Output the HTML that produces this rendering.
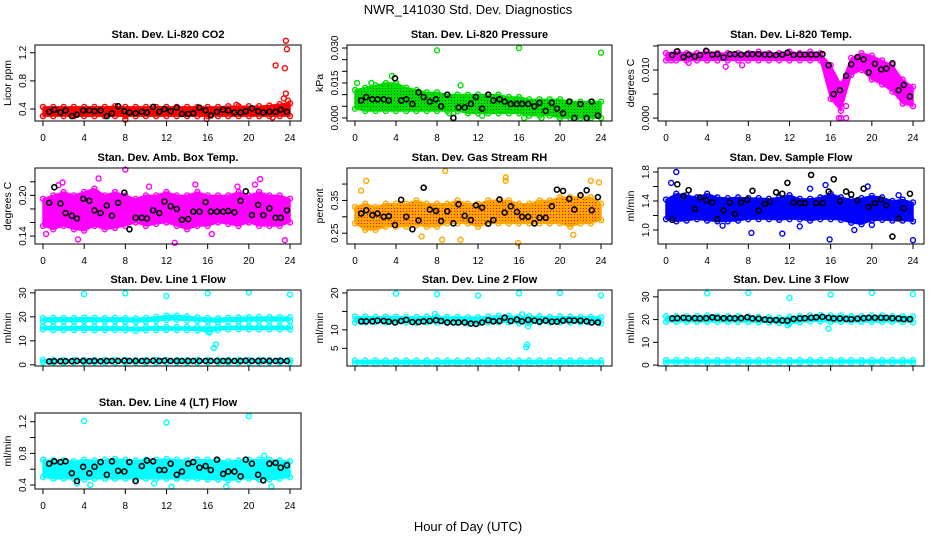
<!DOCTYPE html>
<html><head><meta charset="utf-8"><title>NWR_141030 Std. Dev. Diagnostics</title>
<style>
html,body{margin:0;padding:0;background:#fff;}
svg{display:block;font-family:"Liberation Sans","DejaVu Sans",sans-serif;}
</style></head>
<body>
<svg id="chart" width="936" height="540" viewBox="0 0 936 540" xmlns="http://www.w3.org/2000/svg">
<defs>
<pattern id="pGreen" width="3" height="3" patternUnits="userSpaceOnUse"><rect width="3" height="3" fill="#00dd00"/><rect x="1" y="1" width="1" height="1" fill="#006600"/></pattern>
<pattern id="pOrange" width="3" height="3" patternUnits="userSpaceOnUse"><rect width="3" height="3" fill="#ffa500"/><rect x="1" y="1" width="1" height="1" fill="#ff0000"/></pattern>
</defs>
<text x="468" y="14" text-anchor="middle" font-size="13">NWR_141030  Std. Dev. Diagnostics</text>
<text x="468" y="531" text-anchor="middle" font-size="13">Hour of Day (UTC)</text>
<g id="panels"></g>
</svg>
<script>
// ---- shared data ----
const blackHours = [0.6,1.1,1.7,2.2,2.8,3.3,3.9,4.5,5.0,5.6,6.2,6.7,7.3,7.9,8.4,9.0,9.6,10.1,10.7,11.3,11.8,12.4,13.0,13.5,14.1,14.6,15.2,15.8,16.3,16.9,17.5,18.0,18.6,19.2,19.7,20.3,20.9,21.4,22.0,22.6,23.1,23.7];
const xTicks = [0,4,8,12,16,20,24];

// CO2
const co2Lo = [0.30,0.30,0.30,0.30,0.30,0.30,0.30,0.30,0.30,0.30,0.30,0.30,0.30,0.30,0.30,0.30,0.30,0.30,0.30,0.30,0.30,0.30,0.30,0.30,0.30];
const co2Hi = [0.43,0.43,0.43,0.43,0.43,0.43,0.43,0.44,0.43,0.43,0.43,0.43,0.43,0.43,0.43,0.43,0.43,0.43,0.44,0.44,0.44,0.44,0.45,0.47,0.48];
const co2Out = [[22.6,1.02],[23.5,0.98],[23.6,1.37],[23.7,1.25],[23.4,0.55],[23.6,0.62],[23.8,0.52],[8.0,0.25],[15.9,0.26],[22.3,0.28],[18.8,0.46]];
const co2Black = [0.36,0.39,0.35,0.38,0.30,0.32,0.38,0.38,0.37,0.38,0.30,0.34,0.44,0.37,0.35,0.34,0.36,0.35,0.43,0.36,0.40,0.37,0.42,0.33,0.33,0.34,0.42,0.38,0.31,0.36,0.39,0.38,0.35,0.35,0.37,0.41,0.37,0.35,0.36,0.36,0.39,0.36];
const co2Ticks = [0.4,0.8,1.2];

// Pressure
const prLo = [0.004,0.003,0.003,0.003,0.003,0.003,0.003,0.003,0.003,0.003,0.003,0.002,0.002,0.002,0.002,0.002,0.002,0.001,0.001,0.001,0.000,0.000,0.000,0.000,0.000];
const prHi = [0.012,0.013,0.014,0.015,0.015,0.013,0.012,0.011,0.011,0.010,0.010,0.010,0.010,0.010,0.010,0.009,0.009,0.008,0.008,0.008,0.008,0.007,0.007,0.007,0.007];
const prOut = [[8.0,0.029],[16.0,0.030],[24,0.028],[3.6,0.018],[9.6,0.002],[12.4,0.001],[16.5,0.000],[18.2,0.000],[20,0.000],[0.2,0.015],[1.6,0.015],[10.3,0.014],[9.2,0.002]];
const prBlack = [0.0075,0.009,0.008,0.008,0.008,0.0075,0.017,0.0075,0.008,0.006,0.011,0.009,0.007,0.008,0.005,0.010,0.000,0.0045,0.0045,0.006,0.009,0.004,0.010,0.0075,0.008,0.007,0.006,0.006,0.006,0.006,0.005,0.0065,0.003,0.0065,0.004,0.002,0.007,0.000,0.006,0.000,0.007,0.001];
const prTicks = [0,0.005,0.010,0.015,0.020,0.025,0.030];
const prLabels = ["0.000","","","0.015","","","0.030"];

// Li-820 temp
const tLo = [0.012,0.012,0.012,0.012,0.012,0.012,0.012,0.012,0.012,0.012,0.012,0.012,0.012,0.012,0.012,0.012,0.004,0.0015,0.009,0.010,0.008,0.007,0.0055,0.003,0.0025];
const tHi = [0.0135,0.0138,0.0135,0.0135,0.0138,0.0135,0.0135,0.0135,0.0135,0.0138,0.0135,0.0135,0.0138,0.0135,0.0138,0.0135,0.011,0.007,0.0125,0.0135,0.013,0.012,0.011,0.008,0.0065];
const tOut = [[17,0],[16.8,0],[17.5,0],[17.5,0.0025],[5.8,0.0107],[7.4,0.011],[2.2,0.0115],[0.5,0.012]];
const tBlack = [0.0131,0.0139,0.0127,0.0132,0.0128,0.0131,0.0140,0.0132,0.0133,0.0126,0.0133,0.0133,0.0132,0.0133,0.0133,0.0133,0.0132,0.0132,0.0131,0.0132,0.0136,0.0131,0.0132,0.0132,0.0132,0.0132,0.0133,0.0110,0.0050,0.0058,0.0088,0.0112,0.0127,0.0122,0.0095,0.0113,0.0101,0.0103,0.0114,0.0058,0.0069,0.0045];
const tTicks = [0,0.005,0.010,0.015];
const tLabels = ["0.000","","0.010",""];

// Ambient box temp
const aLo = [0.155,0.15,0.155,0.15,0.148,0.155,0.15,0.152,0.155,0.16,0.155,0.158,0.16,0.155,0.15,0.155,0.155,0.16,0.158,0.155,0.16,0.155,0.155,0.155,0.16];
const aHi = [0.195,0.2,0.205,0.2,0.205,0.21,0.2,0.205,0.2,0.195,0.2,0.2,0.205,0.2,0.2,0.205,0.2,0.2,0.2,0.205,0.2,0.205,0.2,0.2,0.195];
const aOut = [[8.0,0.238],[5.4,0.225],[1.9,0.219],[1.5,0.215],[12.8,0.130],[3.4,0.135],[23.5,0.134],[21.1,0.224],[20.6,0.216],[14.8,0.216],[18.9,0.213],[10.3,0.213],[0.3,0.143],[16.4,0.143]];
const aBlack = [0.189,0.212,0.188,0.174,0.170,0.166,0.195,0.192,0.178,0.174,0.185,0.170,0.189,0.204,0.150,0.167,0.167,0.166,0.178,0.174,0.191,0.184,0.180,0.164,0.165,0.176,0.176,0.190,0.176,0.176,0.176,0.177,0.175,0.192,0.206,0.171,0.186,0.171,0.181,0.167,0.167,0.178];
const aTicks = [0.14,0.16,0.18,0.20,0.22];
const aLabels = ["0.14","","","0.20",""];

// Gas stream RH
const rhLo = [0.28,0.26,0.26,0.27,0.27,0.27,0.275,0.27,0.27,0.28,0.28,0.28,0.27,0.28,0.28,0.28,0.28,0.28,0.28,0.28,0.28,0.27,0.28,0.28,0.29];
const rhHi = [0.33,0.34,0.33,0.34,0.34,0.34,0.35,0.34,0.34,0.34,0.35,0.34,0.34,0.35,0.35,0.35,0.34,0.34,0.35,0.35,0.36,0.36,0.36,0.36,0.34];
const rhOut = [[8.8,0.44],[14.7,0.42],[14.7,0.41],[1.1,0.41],[23,0.41],[23.8,0.405],[15.9,0.22],[8.5,0.23],[10.3,0.23],[21.3,0.245],[6.5,0.24],[0.6,0.38]];
const rhBlack = [0.31,0.32,0.305,0.31,0.30,0.302,0.275,0.352,0.30,0.262,0.289,0.389,0.322,0.318,0.287,0.317,0.28,0.338,0.303,0.29,0.335,0.328,0.279,0.29,0.353,0.313,0.332,0.315,0.30,0.30,0.28,0.297,0.297,0.332,0.383,0.379,0.355,0.322,0.366,0.381,0.32,0.36];
const rhTicks = [0.25,0.30,0.35,0.40];
const rhLabels = ["0.25","","0.35",""];

// Sample flow
const sfLo = [1.15,1.12,1.13,1.15,1.13,1.12,1.12,1.13,1.15,1.15,1.15,1.14,1.15,1.15,1.13,1.15,1.15,1.14,1.10,1.08,1.13,1.14,1.13,1.13,1.12];
const sfHi = [1.42,1.5,1.48,1.45,1.5,1.45,1.44,1.45,1.44,1.44,1.43,1.45,1.48,1.43,1.43,1.45,1.5,1.45,1.42,1.44,1.47,1.45,1.4,1.42,1.38];
const sfOut = [[1.0,1.8],[0.5,1.65],[11.3,0.95],[8.3,0.96],[15.9,0.87],[24,0.86],[19.6,1.6],[14,1.57],[15.5,1.62],[18.3,1.0],[20,1.07],[5.5,1.06],[13,1.05],[22.6,1.48]];
const sfBlack = [1.14,1.63,1.47,1.55,1.29,1.45,1.41,1.38,1.15,1.27,1.38,1.22,1.38,1.42,1.54,1.27,1.36,1.39,1.52,1.50,1.65,1.38,1.37,1.37,1.76,1.37,1.37,1.53,1.70,1.40,1.53,1.49,1.41,1.57,1.32,1.37,1.42,1.34,0.91,1.16,1.30,1.50];
const sfTicks = [1.0,1.2,1.4,1.6,1.8];
const sfLabels = ["1.0","","1.4","","1.8"];

// Line 1 flow
const l1UpLo = [18.0,18.0,18.1,18.0,18.1,18.0,18.0,18.1,18.0,17.9,18.0,18.3,18.7,18.8,18.5,18.3,18.0,17.8,18.1,18.1,18.3,18.3,18.3,18.3,18.3];
const l1UpHi = [19.5,19.6,19.5,19.5,19.7,19.6,19.5,19.6,19.5,19.4,19.6,20.0,20.5,20.5,20.2,19.8,19.5,19.4,19.6,19.8,19.9,19.9,19.9,19.9,19.9];
const l1MidLo = [14.8,14.5,14.5,14.5,14.5,14.4,14.4,14.5,14.4,14.2,14.4,14.5,14.5,14.5,14.5,14.4,13.8,14.5,14.8,14.8,14.8,14.8,14.8,14.8,14.8];
const l1MidHi = [16.0,15.9,15.8,15.9,15.9,15.8,15.8,15.8,15.7,15.5,15.7,15.8,15.8,15.8,15.8,15.7,15.7,15.8,16.1,16.1,16.1,16.1,16.1,16.1,16.1];
const l1BotLo = [1.0,1.0,1.0,1.0,1.0,1.0,1.0,1.0,1.0,1.0,1.0,1.0,1.0,1.0,1.0,1.0,1.0,1.0,1.0,1.0,1.0,1.0,1.0,1.0,1.0];
const l1BotHi = [2.0,2.0,2.0,2.0,2.0,2.0,2.0,2.0,2.0,2.0,2.0,2.0,2.0,2.0,2.0,2.0,2.0,2.0,2.0,2.0,2.0,2.0,2.0,2.0,2.0];
const l1Out = [[4,29.5],[8,29.8],[12,28.7],[16,29.8],[20,30.2],[24,29.3],[16.6,7],[16.8,8.5],[16.2,13.5]];
const l1Black = [1.4,1.5,1.5,1.5,1.5,1.6,1.6,1.5,1.6,1.5,1.6,1.6,1.6,1.7,1.6,1.6,1.6,1.6,1.7,1.6,1.7,1.6,1.6,1.6,1.6,1.6,1.6,1.6,1.6,1.6,1.6,1.6,1.6,1.6,1.7,1.6,1.6,1.7,1.6,1.6,1.6,1.6];
const l1Ticks = [0,10,20,30];

// Line 2 flow
const l2Lo = [12.0,12.0,12.1,12.0,12.0,12.0,11.9,12.0,12.0,11.9,11.9,11.8,11.8,12.0,12.1,12.1,11.8,11.8,12.0,12.0,12.0,12.0,12.0,12.0,11.8];
const l2Hi = [13.6,13.6,13.5,13.6,13.6,13.5,13.5,13.6,13.5,13.5,13.5,13.4,13.4,13.6,13.8,13.8,13.5,13.7,13.6,13.5,13.6,13.6,13.5,13.5,13.4];
const l2BotLo = [0.8,0.8,0.8,0.8,0.8,0.8,0.8,0.8,0.8,0.8,0.8,0.8,0.8,0.8,0.8,0.8,0.8,0.8,0.8,0.8,0.8,0.8,0.8,0.8,0.8];
const l2BotHi = [1.7,1.7,1.7,1.7,1.7,1.7,1.7,1.7,1.7,1.7,1.7,1.7,1.7,1.7,1.7,1.7,1.7,1.7,1.7,1.7,1.7,1.7,1.7,1.7,1.7];
const l2Out = [[4,19.8],[8,19.7],[12,19.3],[16,19.9],[20,20],[24,19.3],[16.7,5.3],[16.8,6],[16.9,11],[16.3,14.2],[7.8,14.3]];
const l2Black = [12.3,12.3,12.3,12.5,12.4,12.2,12.0,12.4,12.7,12.1,12.1,12.3,12.4,12.6,12.4,12.0,12.0,12.0,12.0,11.7,11.6,12.0,12.6,12.3,12.4,13.3,12.4,12.8,12.3,12.7,12.5,12.2,12.5,12.2,12.2,12.5,12.6,12.5,12.5,12.3,12.0,12.0];
const l2Ticks = [5,10,15,20];
const l2Labels = ["5","10","","20"];

// Line 3 flow
const l3Lo = [19.0,19.0,19.0,19.0,19.0,19.0,19.0,19.0,19.0,18.8,18.8,18.5,18.2,18.8,19.2,19.2,19.0,19.0,19.0,19.0,19.0,19.0,19.0,19.0,18.8];
const l3Hi = [21.5,21.5,21.5,21.5,21.8,21.5,21.5,21.5,21.3,21.2,21.0,20.8,21.2,21.5,21.8,22.0,21.8,21.8,21.5,21.5,21.8,21.8,21.5,21.5,21.3];
const l3BotLo = [1.0,1.0,1.0,1.0,1.0,1.0,1.0,1.0,1.0,1.0,1.0,1.0,1.0,1.0,1.0,1.0,1.0,1.0,1.0,1.0,1.0,1.0,1.0,1.0,1.0];
const l3BotHi = [2.2,2.2,2.2,2.2,2.2,2.2,2.2,2.2,2.2,2.2,2.2,2.2,2.2,2.2,2.2,2.2,2.2,2.2,2.2,2.2,2.2,2.2,2.2,2.2,2.2];
const l3Out = [[4,31.5],[8,31.7],[12,29.5],[16,31],[20,31.7],[24,31.2],[15.8,16],[11.8,17.5]];
const l3Black = [20.5,20.6,20.8,20.6,20.6,20.5,20.6,21.0,20.7,20.6,20.6,20.5,20.6,21.0,20.5,20.4,20.0,19.8,19.8,19.6,19.5,20.3,20.5,20.6,20.8,21.0,21.2,20.8,20.5,20.5,20.3,20.2,20.4,20.6,20.8,20.8,20.8,20.8,20.6,20.5,20.2,20.2];
const l3Ticks = [0,10,20,30];

// Line 4 flow
const l4Lo = [0.50,0.48,0.48,0.48,0.47,0.48,0.48,0.48,0.48,0.48,0.48,0.48,0.48,0.48,0.48,0.48,0.47,0.47,0.46,0.47,0.48,0.47,0.47,0.48,0.50];
const l4Hi = [0.72,0.71,0.71,0.70,0.72,0.71,0.72,0.73,0.72,0.71,0.72,0.72,0.73,0.72,0.71,0.72,0.72,0.71,0.70,0.71,0.72,0.72,0.72,0.71,0.70];
const l4Out = [[4,1.21],[12,1.19],[20,1.27],[21.5,0.77],[4.6,0.40],[12.5,0.38],[17.8,0.38],[22.2,0.38],[3.3,0.42],[10.8,0.42]];
const l4Black = [0.67,0.70,0.69,0.70,0.55,0.45,0.63,0.55,0.63,0.69,0.53,0.70,0.58,0.57,0.69,0.45,0.64,0.71,0.70,0.59,0.59,0.67,0.53,0.57,0.67,0.69,0.62,0.64,0.59,0.72,0.54,0.57,0.57,0.51,0.72,0.67,0.53,0.46,0.67,0.68,0.62,0.65];
const l4Ticks = [0.4,0.6,0.8,1.0,1.2];
const l4Labels = ["0.4","","0.8","","1.2"];

// ---- layout (styling only) ----
const colLeft = [35,347,658], colRight = [301,612,924];
const rowTop = [45,168,290,413], boxH = 76;
const NS = "http://www.w3.org/2000/svg";
const root = document.getElementById('panels');

function mk(tag, attrs, parent){
  const e = document.createElementNS(NS, tag);
  for (const k in attrs) e.setAttribute(k, attrs[k]);
  (parent||root).appendChild(e);
  return e;
}

const panels = [
  {slug:'co2', title:'Stan. Dev. Li-820 CO2', ylab:'Licor ppm', r:0,c:0, dom:[0.23,1.31], ticks:co2Ticks, labels:co2Ticks.map(v=>v.toFixed(1)), color:'#ff0000', fill:'#ff0000', bands:[[co2Lo,co2Hi]], out:co2Out, black:co2Black, xl:true},
  {slug:'pressure', title:'Stan. Dev. Li-820 Pressure', ylab:'kPa', r:0,c:1, dom:[-0.0013,0.0313], ticks:prTicks, labels:prLabels, color:'#00dd00', fill:'url(#pGreen)', bands:[[prLo,prHi]], out:prOut, black:prBlack, xl:true},
  {slug:'licor-temp', title:'Stan. Dev. Li-820 Temp.', ylab:'degrees C', r:0,c:2, dom:[-0.0006,0.0152], ticks:tTicks, labels:tLabels, color:'#ff00ff', fill:'#ff00ff', bands:[[tLo,tHi]], out:tOut, black:tBlack, xl:true},
  {slug:'amb-box-temp', title:'Stan. Dev. Amb. Box Temp.', ylab:'degrees C', r:1,c:0, dom:[0.1283,0.2404], ticks:aTicks, labels:aLabels, color:'#ff00ff', fill:'#ff00ff', bands:[[aLo,aHi]], out:aOut, black:aBlack, xl:true},
  {slug:'gas-rh', title:'Stan. Dev. Gas Stream RH', ylab:'percent', r:1,c:1, dom:[0.217,0.449], ticks:rhTicks, labels:rhLabels, color:'#ffa500', fill:'url(#pOrange)', bands:[[rhLo,rhHi]], out:rhOut, black:rhBlack, xl:true},
  {slug:'sample-flow', title:'Stan. Dev. Sample Flow', ylab:'ml/min', r:1,c:2, dom:[0.807,1.855], ticks:sfTicks, labels:sfLabels, color:'#0000ff', fill:'#0000ff', bands:[[sfLo,sfHi]], out:sfOut, black:sfBlack, xl:true},
  {slug:'line1-flow', title:'Stan. Dev. Line 1 Flow', ylab:'ml/min', r:2,c:0, dom:[-0.5,31.2], ticks:l1Ticks, labels:l1Ticks.map(String), color:'#00ffff', fill:'#00ffff', bands:[[l1UpLo,l1UpHi],[l1MidLo,l1MidHi],[l1BotLo,l1BotHi]], out:l1Out, black:l1Black, xl:false},
  {slug:'line2-flow', title:'Stan. Dev. Line 2 Flow', ylab:'ml/min', r:2,c:1, dom:[0.2,20.8], ticks:l2Ticks, labels:l2Labels, color:'#00ffff', fill:'#00ffff', bands:[[l2Lo,l2Hi],[l2BotLo,l2BotHi]], out:l2Out, black:l2Black, xl:false},
  {slug:'line3-flow', title:'Stan. Dev. Line 3 Flow', ylab:'ml/min', r:2,c:2, dom:[-0.4,33], ticks:l3Ticks, labels:l3Ticks.map(String), color:'#00ffff', fill:'#00ffff', bands:[[l3Lo,l3Hi],[l3BotLo,l3BotHi]], out:l3Out, black:l3Black, xl:false},
  {slug:'line4-flow', title:'Stan. Dev. Line 4 (LT) Flow', ylab:'ml/min', r:3,c:0, dom:[0.35,1.31], ticks:l4Ticks, labels:l4Labels, color:'#00ffff', fill:'#00ffff', bands:[[l4Lo,l4Hi]], out:l4Out, black:l4Black, xl:true}
];

panels.forEach(p=>{
  const L = colLeft[p.c], R = colRight[p.c], T = rowTop[p.r], B = T + boxH;
  const x = h => L + 8 + h * (R - L - 19) / 24;
  const y = v => B - (v - p.dom[0]) / (p.dom[1] - p.dom[0]) * boxH;
  const g = mk('g', {});
  
  

  const t = mk('text', {x:(L+R)/2, y:T-7, 'text-anchor':'middle', 'font-size':'11', 'font-weight':'bold'}, g);
  t.textContent = p.title;
  
  

  const yl = mk('text', {x:L-24, y:(T+B)/2, 'text-anchor':'middle', 'font-size':'10.5', transform:`rotate(-90 ${L-24} ${(T+B)/2})`}, g);
  yl.textContent = p.ylab;
  
  

  const clip = mk('g', {}, g);
  
  
  p.bands.forEach(b=>{
    const lo = b[0], hi = b[1];
    let pts = [];
    for (let i=0;i<hi.length;i++) pts.push(x(i)+','+y(hi[i]));
    for (let i=lo.length-1;i>=0;i--) pts.push(x(i)+','+y(lo[i]));
    const poly = mk('polygon', {points:pts.join(' '), fill:p.fill, stroke:p.color, 'stroke-width':'1.5', 'stroke-linejoin':'round'}, clip);
    
    
    for (let i=0;i<hi.length;i++){
      [hi[i], lo[i]].forEach(v=>{
        const c = mk('circle', {cx:x(i), cy:y(v), r:2.5, fill:'none', stroke:p.color, 'stroke-width':'1.4'}, clip);
        
        
      });
    }
  });
  p.out.forEach(o=>{
    const c = mk('circle', {cx:x(o[0]), cy:y(o[1]), r:2.5, fill:'none', stroke:p.color, 'stroke-width':'1.4'}, clip);
    
    
  });

  const bg = mk('g', {}, g);
  
  
  p.black.forEach((v,i)=>{
    const c = mk('circle', {cx:x(blackHours[i]), cy:y(v), r:2.5, fill:'none', stroke:'#000', 'stroke-width':'1.6'}, bg);
    
    
  });

  const box = mk('rect', {x:L, y:T, width:R-L, height:boxH, fill:'none', stroke:'#000', 'stroke-width':'1'}, g);
  
  

  p.ticks.forEach((v,i)=>{
    const yy = y(v);
    mk('line', {x1:L-5, x2:L, y1:yy, y2:yy, stroke:'#000'}, g);
    if (p.labels[i]) {
      const tl = mk('text', {x:L-9, y:yy, 'text-anchor':'middle', 'font-size':'10', transform:`rotate(-90 ${L-9} ${yy})`}, g);
      tl.textContent = p.labels[i];
      
      
    }
  });
  mk('line', {x1:L, x2:L, y1:y(p.ticks[0]), y2:y(p.ticks[p.ticks.length-1]), stroke:'#000'}, g);
  xTicks.forEach(h=>{
    mk('line', {x1:x(h), x2:x(h), y1:B, y2:B+5, stroke:'#000'}, g);
    if (p.xl) {
      const tl = mk('text', {x:x(h), y:B+20, 'text-anchor':'middle', 'font-size':'10'}, g);
      tl.textContent = String(h);
      
      
    }
  });
});
</script>
</body></html>
